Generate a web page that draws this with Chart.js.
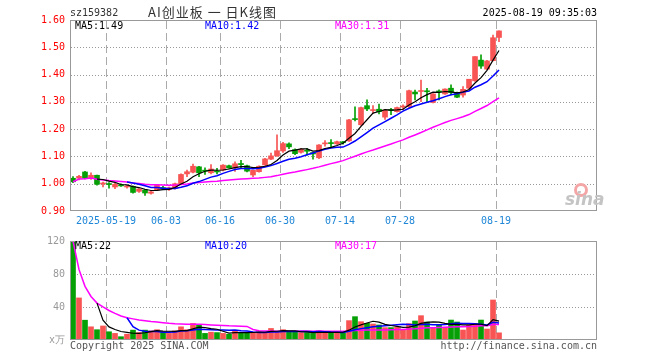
<!DOCTYPE html>
<html>
<head>
<meta charset="utf-8">
<script src="https://cdn.jsdelivr.net/npm/chart.js@4.4.0/dist/chart.umd.min.js"></script>
<style>
  body { margin: 0; background: #fff; width: 660px; height: 360px; overflow: hidden; position: relative; }
  .t { position: absolute; font: 10px "DejaVu Sans Mono", monospace; line-height: 12px; white-space: nowrap; }
  canvas { position: absolute; left: 0; }
</style>
</head>
<body>
<canvas id="priceChart" width="660" height="232" style="top:0"></canvas>
<canvas id="volChart" width="660" height="130" style="top:230px"></canvas>

<div class="t" style="left:70px;top:7px;color:#333">sz159382</div>
<div class="t" style="left:148px;top:3px;font:13px 'Noto Sans CJK SC',sans-serif;line-height:17px;letter-spacing:1px;color:#333">AI创业板 一 日K线图</div>
<div class="t" style="right:63px;top:7px;color:#000">2025-08-19 09:35:03</div>

<div class="t" style="left:75px;top:20px;color:#000">MA5:1.49</div>
<div class="t" style="left:205px;top:20px;color:#00f">MA10:1.42</div>
<div class="t" style="left:335px;top:20px;color:#f0f">MA30:1.31</div>

<div class="t" style="left:75px;top:240px;color:#000">MA5:22</div>
<div class="t" style="left:205px;top:240px;color:#00f">MA10:20</div>
<div class="t" style="left:335px;top:240px;color:#f0f">MA30:17</div>

<div style="position:absolute;left:574px;top:183px;width:8px;height:8px;border:3px solid #f4a6a6;border-radius:50%"></div>
<div class="t" style="left:565px;top:190px;font:italic bold 17px 'DejaVu Sans',sans-serif;line-height:18px;color:#c4c4c4">sina</div>

<div class="t" style="left:70px;top:340px;color:#555">Copyright 2025 SINA.COM</div>
<div class="t" style="right:63px;top:340px;color:#555">http://finance.sina.com.cn</div>

<script>
// daily candles, 2025-05-09 .. 2025-08-19
const opens = [1.020, 1.020, 1.043, 1.020, 1.031, 0.999, 1.000, 0.988, 0.996, 0.988,
  0.990, 0.972, 0.977, 0.965, 0.977, 0.986, 0.979, 0.983, 0.999, 1.036,
  1.042, 1.062, 1.049, 1.040, 1.046, 1.050, 1.066, 1.058, 1.074, 1.066,
  1.032, 1.044, 1.069, 1.090, 1.102, 1.120, 1.146, 1.125, 1.115, 1.122,
  1.114, 1.095, 1.146, 1.150, 1.146, 1.152, 1.157, 1.238, 1.216, 1.286,
  1.268, 1.273, 1.244, 1.272, 1.264, 1.281, 1.283, 1.336, 1.338, 1.340,
  1.298, 1.340, 1.329, 1.350, 1.334, 1.325, 1.350, 1.377, 1.453, 1.420,
  1.451, 1.536];
const highs = [1.026, 1.031, 1.045, 1.040, 1.032, 1.006, 1.004, 1.001, 1.000, 0.994,
  0.992, 0.982, 0.979, 0.972, 0.996, 0.990, 0.988, 1.002, 1.036, 1.050,
  1.072, 1.064, 1.058, 1.070, 1.056, 1.070, 1.068, 1.080, 1.086, 1.068,
  1.050, 1.066, 1.093, 1.112, 1.179, 1.152, 1.150, 1.128, 1.130, 1.130,
  1.116, 1.143, 1.158, 1.162, 1.156, 1.155, 1.236, 1.282, 1.281, 1.307,
  1.286, 1.292, 1.272, 1.276, 1.281, 1.289, 1.343, 1.343, 1.380, 1.350,
  1.330, 1.344, 1.348, 1.362, 1.336, 1.356, 1.383, 1.466, 1.472, 1.452,
  1.545, 1.560];
const lows = [1.004, 1.014, 1.018, 1.016, 0.995, 0.988, 0.984, 0.982, 0.990, 0.984,
  0.965, 0.968, 0.957, 0.962, 0.975, 0.978, 0.975, 0.980, 0.997, 1.026,
  1.040, 1.026, 1.034, 1.036, 1.036, 1.047, 1.056, 1.045, 1.058, 1.043,
  1.026, 1.042, 1.067, 1.088, 1.100, 1.115, 1.128, 1.106, 1.112, 1.105,
  1.090, 1.092, 1.138, 1.132, 1.144, 1.145, 1.155, 1.230, 1.214, 1.268,
  1.258, 1.256, 1.236, 1.253, 1.262, 1.271, 1.280, 1.307, 1.301, 1.301,
  1.296, 1.307, 1.327, 1.325, 1.315, 1.317, 1.348, 1.375, 1.423, 1.418,
  1.450, 1.521];
const closes = [1.007, 1.027, 1.020, 1.031, 0.998, 1.001, 0.997, 0.998, 0.992, 0.991,
  0.968, 0.981, 0.966, 0.970, 0.994, 0.981, 0.985, 1.000, 1.034, 1.044,
  1.064, 1.040, 1.046, 1.054, 1.043, 1.068, 1.058, 1.073, 1.070, 1.046,
  1.049, 1.064, 1.091, 1.102, 1.121, 1.147, 1.135, 1.110, 1.126, 1.119,
  1.109, 1.142, 1.149, 1.147, 1.154, 1.150, 1.234, 1.235, 1.279, 1.274,
  1.271, 1.264, 1.270, 1.268, 1.279, 1.284, 1.341, 1.329, 1.341, 1.337,
  1.329, 1.336, 1.347, 1.334, 1.317, 1.346, 1.383, 1.466, 1.431, 1.450,
  1.535, 1.560];
// volume, 万手
const volumes = [120, 51, 24, 16, 12.5, 17, 10, 8, 4, 7,
  12, 9, 12, 11, 12.5, 9.5, 8, 11, 16, 12.5,
  20, 18.5, 8, 9.5, 9, 8, 7, 11.5, 9, 9,
  9, 10, 10, 14, 10, 12.5, 9.3, 9.3, 9, 9,
  8, 11, 9, 9, 9, 9, 23.5, 28.3, 22.2, 20.2,
  19.4, 18.2, 15, 15, 15.4, 13, 19.8, 23, 29.5, 21.8,
  15.4, 18.2, 15.4, 24.2, 21.8, 12.1, 17.8, 19.5, 24.2, 13.3,
  48.5, 8.7];
// x-axis labels and the candle index they sit on
const dateLabels = ['2025-05-19', '06-03', '06-16', '06-30', '07-14', '07-28', '08-19'];
const dateIdx = [6, 16, 25, 35, 45, 55, 71];
const priceGrid = [1.0, 1.1, 1.2, 1.3, 1.4, 1.5];
const volGrid = [40, 80];

const RED = '#f85454', GREEN = '#06a006';
const MONO = { family: 'DejaVu Sans Mono', size: 10 };
const SLOTS = 87.83; // candle slots across the plot

function movingAvg(src, n, fromStart) {
  return src.map((_, i) => {
    if (i < n - 1 && !fromStart) return null;
    const s = src.slice(Math.max(0, i - n + 1), i + 1);
    return s.reduce((a, b) => a + b, 0) / s.length;
  });
}
const pts = arr => arr.map((v, i) => ({ x: i, y: v })).filter(p => p.y !== null);
const colors = closes.map((c, i) => (c >= opens[i] ? RED : GREEN));

// dotted / dashed grid drawn as little rects (line dashes don't render here), plus the frame
function gridPlugin(hLines) {
  return {
    id: 'sinaGrid',
    beforeDatasetsDraw(chart) {
      const { ctx, chartArea: a, scales: { x, y } } = chart;
      ctx.save();
      ctx.fillStyle = '#999';
      hLines.forEach(v => {
        const py = Math.round(y.getPixelForValue(v));
        for (let px = a.left + 1; px < a.right; px += 3) ctx.fillRect(px, py, 1, 1);
      });
      ctx.fillStyle = '#aaa';
      dateIdx.forEach(d => {
        const px = Math.round(x.getPixelForValue(d - 0.5));
        for (let py = a.top + 1; py < a.bottom; py += 12) {
          ctx.fillRect(px, py, 1, Math.min(8, a.bottom - py));
        }
      });
      ctx.restore();
    },
    afterDatasetsDraw(chart) {
      const { ctx, chartArea: a } = chart;
      ctx.save();
      ctx.strokeStyle = '#999';
      ctx.lineWidth = 1;
      ctx.strokeRect(a.left + 0.5, a.top + 0.5, a.right - a.left - 1, a.bottom - a.top - 1);
      ctx.restore();
    }
  };
}

function maLine(data, color, width) {
  return { type: 'line', data: pts(data), borderColor: color, borderWidth: width,
    pointRadius: 0, tension: 0, fill: false, order: 0 };
}

function xScale(showLabels) {
  return {
    type: 'linear', min: -0.5, max: SLOTS - 0.5, offset: false, bounds: 'data',
    grid: { display: false, drawTicks: false }, border: { display: false },
    afterBuildTicks: axis => { axis.ticks = dateIdx.map(d => ({ value: d - 0.5 })); },
    afterFit: axis => { axis.height = showLabels ? 21 : 20; },
    ticks: { display: showLabels, autoSkip: false, maxRotation: 0, color: '#1f86d8',
      font: MONO, padding: 4, callback: (v, i) => dateLabels[i] }
  };
}

new Chart(document.getElementById('priceChart'), {
  type: 'bar',
  data: {
    datasets: [
      maLine(movingAvg(closes, 5), '#000', 1.2),
      maLine(movingAvg(closes, 10), '#0000ff', 1.5),
      maLine(movingAvg(closes, 30, true), '#ff00ff', 1.5),
      { data: closes.map((c, i) => ({ x: i, y: [opens[i], c] })), backgroundColor: colors,
        barThickness: 5, minBarLength: 1, grouped: false, order: 1 },
      { data: closes.map((c, i) => ({ x: i, y: [lows[i], highs[i]] })), backgroundColor: colors,
        barThickness: 1, grouped: false, order: 2 }
    ]
  },
  options: {
    responsive: false, animation: false,
    layout: { padding: { left: 0, right: 63, top: 20, bottom: 0 } },
    plugins: { legend: { display: false }, tooltip: { enabled: false } },
    scales: {
      x: xScale(true),
      y: {
        min: 0.9, max: 1.6, beginAtZero: false,
        grid: { display: false, drawTicks: false }, border: { display: false },
        afterFit: axis => { axis.width = 70; },
        ticks: { stepSize: 0.1, color: '#f00', font: MONO, padding: 5,
          callback: v => v.toFixed(2) }
      }
    }
  },
  plugins: [gridPlugin(priceGrid)]
});

new Chart(document.getElementById('volChart'), {
  type: 'bar',
  data: {
    datasets: [
      maLine(movingAvg(volumes, 5), '#000', 1.2),
      maLine(movingAvg(volumes, 10), '#0000ff', 1.5),
      maLine(movingAvg(volumes, 30, true), '#ff00ff', 1.5),
      { data: volumes.map((v, i) => ({ x: i, y: v })), backgroundColor: colors,
        barThickness: 5, grouped: false, order: 1 }
    ]
  },
  options: {
    responsive: false, animation: false,
    layout: { padding: { left: 0, right: 63, top: 10, bottom: 0 } },
    plugins: { legend: { display: false }, tooltip: { enabled: false } },
    scales: {
      x: xScale(false),
      y: {
        min: 0, max: 120,
        grid: { display: false, drawTicks: false }, border: { display: false },
        afterFit: axis => { axis.width = 70; },
        ticks: { stepSize: 40, color: '#999', font: MONO, padding: 5,
          callback: v => (v === 0 ? 'x万' : v) }
      }
    }
  },
  plugins: [gridPlugin(volGrid)]
});
</script>
</body>
</html>
